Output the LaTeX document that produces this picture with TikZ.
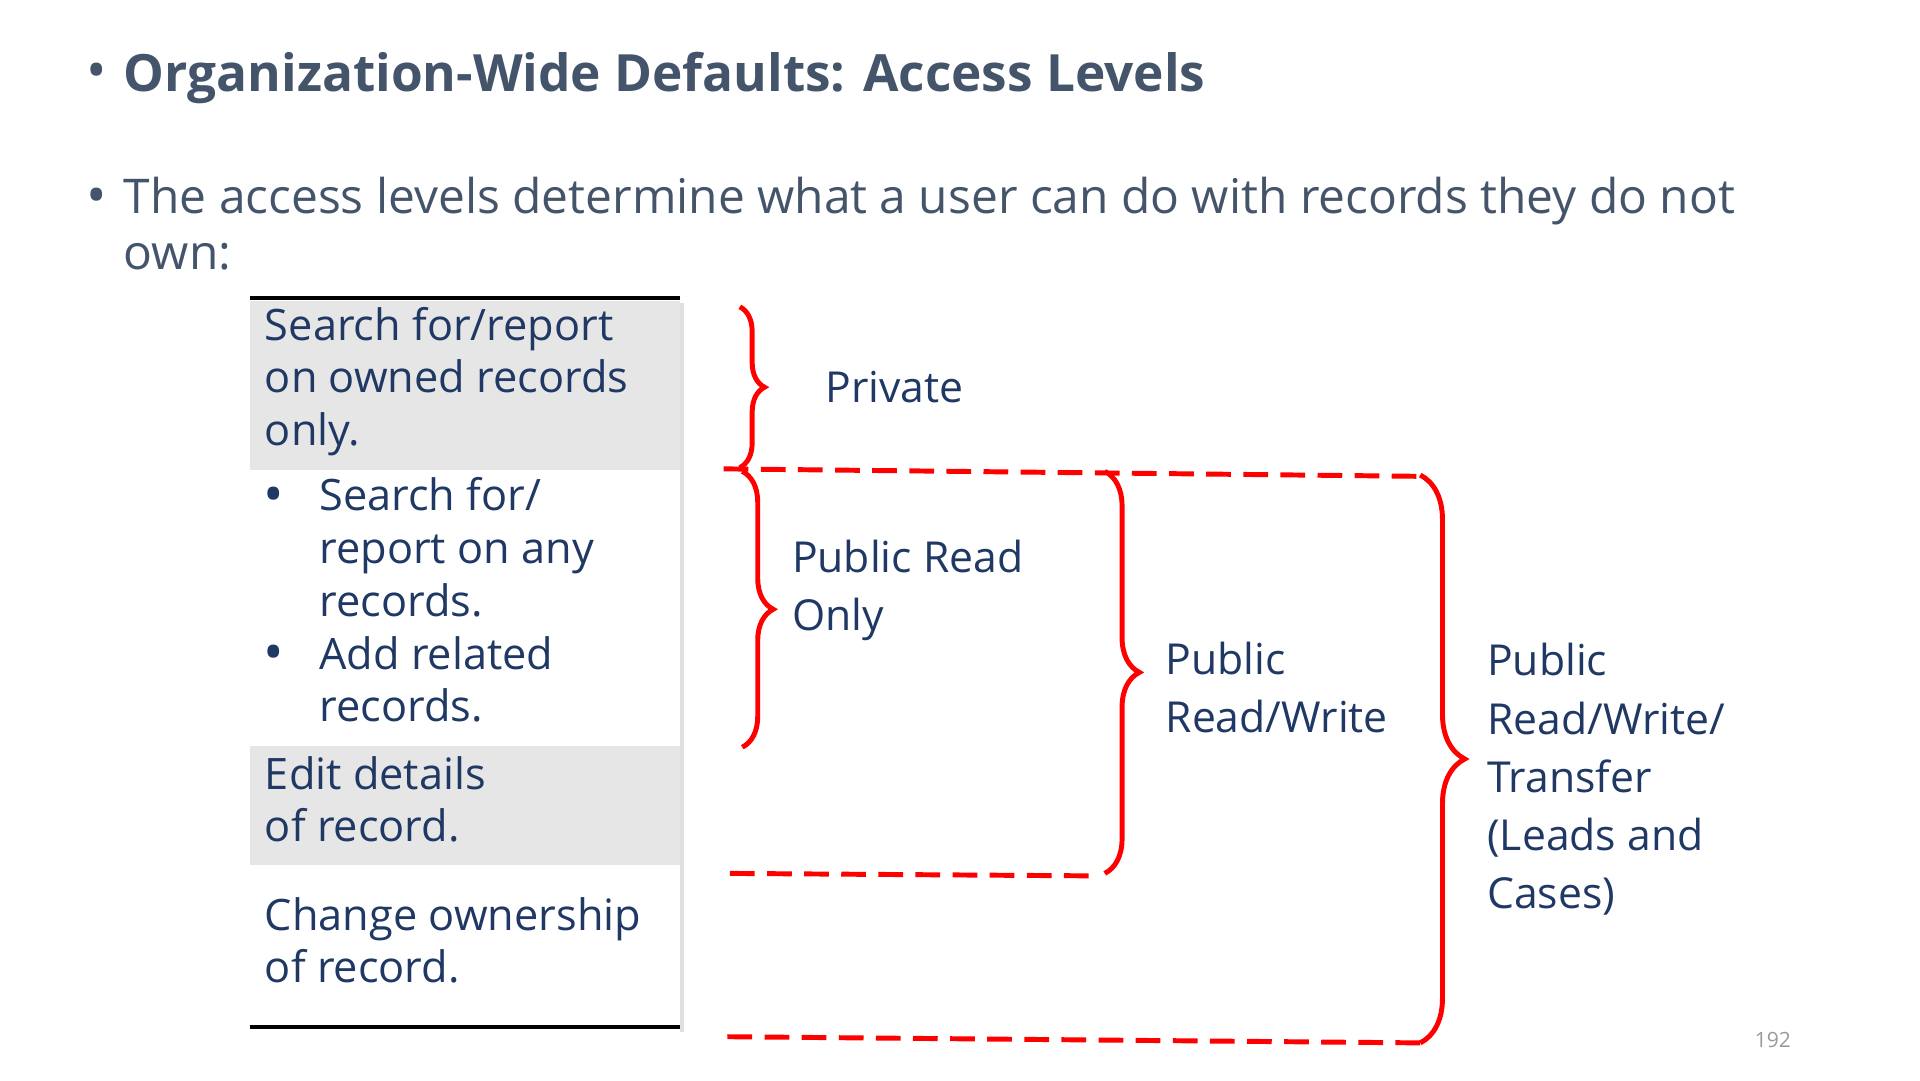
\documentclass[tikz,border=0pt]{standalone}
\usepackage{fontspec}
\setmainfont{Open Sans}
\usetikzlibrary{decorations.pathreplacing}
\definecolor{titlec}{HTML}{44546A}
\definecolor{bodyc}{HTML}{1F3864}
\definecolor{rowg}{HTML}{E7E6E6}
\begin{document}
\begin{tikzpicture}[x=1pt,y=-1pt,
  cell/.style={anchor=north west,align=left,inner sep=0,text=bodyc,font=\fontsize{35}{42.5}\selectfont},
  lab/.style={anchor=west,align=left,inner sep=0,text=bodyc,font=\fontsize{34.5}{47}\selectfont},
  rbrace/.style={draw=red,line width=4pt,decorate,decoration={brace,amplitude=#1}},
  rdash/.style={draw=red,line width=4pt,dash pattern=on 20pt off 10pt}]
\useasboundingbox (0,0) rectangle (1552,873);
% title
\node[anchor=center,inner sep=0,text=titlec,font=\fontsize{44}{48}\selectfont] (b1) at (78,62) {•};
\node[anchor=west,inner sep=0,text=titlec,font=\bfseries\fontsize{41.5}{48}\selectfont] (title) at (100,63) {Organization-Wide Defaults: Access Levels};
\node[anchor=center,inner sep=0,text=titlec,font=\fontsize{44}{48}\selectfont] (b2) at (78,163) {•};
\node[anchor=north west,align=left,inner sep=0,text=titlec,font=\fontsize{38.7}{45}\selectfont] (intro) at (100,143) {The access levels determine what a user can do with records they do not\\own:};
% table
\fill[black!12] (550,245) rectangle (553,834);
\fill[rowg] (202,243) rectangle (550,380);
\fill[white] (202,380) rectangle (550,603);
\fill[rowg] (202,603) rectangle (550,699);
\fill[white] (202,699) rectangle (550,830);
\draw[line width=3.5pt] (202,241) -- (550,241);
\draw[line width=3.5pt] (202,830) -- (550,830);
\node[cell] (r1) at (214,248) {Search for/report\\on owned records\\only.};
\node[anchor=center,inner sep=0,text=bodyc,font=\fontsize{44}{48}\selectfont] (d1) at (221,404) {•};
\node[cell] (r2) at (258,386) {Search for/\\report on any\\records.};
\node[anchor=center,inner sep=0,text=bodyc,font=\fontsize{44}{48}\selectfont] (d2) at (221,532) {•};
\node[cell] (r3) at (258,514) {Add related\\records.};
\node[cell] (r4) at (214,611) {Edit details\\of record.};
\node[cell] (r5) at (214,725) {Change ownership\\of record.};
% braces
\draw[rbrace=20] (598,248) -- (598,378);
\draw[rbrace=25] (600,381) -- (600,604);
\draw[rbrace=28] (893,381) -- (893,706);
\draw[rbrace=36] (1148,384) -- (1148,843);
% dashes
\draw[rdash] (585,379) -- (1145,385);
\draw[rdash] (590,706) -- (885,708);
\draw[rdash] (588,838) -- (1148,843);
% labels
\node[lab] (lp) at (667,313) {Private};
\node[lab] (lr) at (640,477) {Public Read\\Only};
\node[lab] (lrw) at (942,556) {Public\\Read/Write};
\node[lab] (lt) at (1202,630) {Public\\Read/Write/\\Transfer\\(Leads and\\Cases)};
\node[anchor=center,inner sep=0,text=black!40,font=\fontsize{17}{20}\selectfont] (pg) at (1433,841) {192};
\end{tikzpicture}
\end{document}
